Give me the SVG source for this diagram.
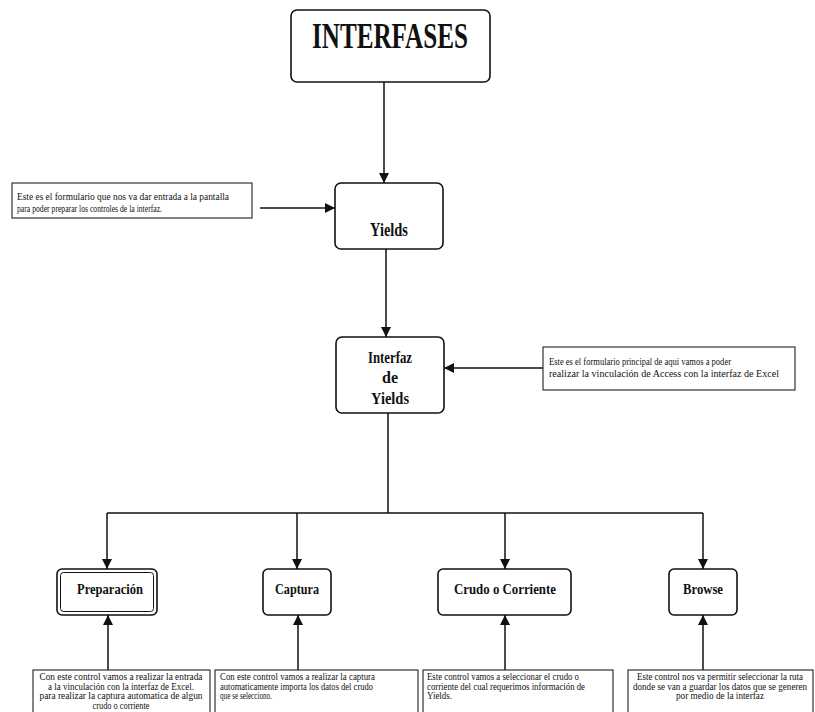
<svg xmlns="http://www.w3.org/2000/svg" width="815" height="712" viewBox="0 0 815 712">
<style>
.box{fill:#fff;stroke:#111;stroke-width:1.6}
.note{fill:#fff;stroke:#222;stroke-width:1.1}
.lbl{font-family:"Liberation Serif",serif;font-weight:bold;fill:#111;text-anchor:middle}
.txt{font-family:"Liberation Serif",serif;font-size:10.5px;fill:#111}
.sm{font-size:9.3px}
.c{text-anchor:middle}
.ln{fill:none;stroke:#111;stroke-width:1.5}
</style>
<defs>
<marker id="ah" viewBox="0 0 10 10" refX="10" refY="5" markerWidth="12" markerHeight="10" markerUnits="userSpaceOnUse" orient="auto">
<path d="M0,0 L10,5 L0,10 z" fill="#111"/>
</marker>
</defs>
<rect width="815" height="712" fill="#fff"/>
<g id="connectors">
<path class="ln" d="M384,82 V183" marker-end="url(#ah)"/>
<path class="ln" d="M260,208 H335" marker-end="url(#ah)"/>
<path class="ln" d="M386,249 V337" marker-end="url(#ah)"/>
<path class="ln" d="M543,368 H444" marker-end="url(#ah)"/>
<path class="ln" d="M388,413 V513 M107,513 H703"/>
<path class="ln" d="M107,513 V569" marker-end="url(#ah)"/>
<path class="ln" d="M297,513 V569" marker-end="url(#ah)"/>
<path class="ln" d="M505,513 V569" marker-end="url(#ah)"/>
<path class="ln" d="M703,513 V569" marker-end="url(#ah)"/>
<path class="ln" d="M108,670 V615" marker-end="url(#ah)"/>
<path class="ln" d="M298,670 V615" marker-end="url(#ah)"/>
<path class="ln" d="M505,670 V615" marker-end="url(#ah)"/>
<path class="ln" d="M703,670 V615" marker-end="url(#ah)"/>
</g>
<g id="interfases">
<rect class="box" x="291" y="10" width="199" height="72" rx="6"/>
<text class="lbl" x="390" y="48" font-size="36" textLength="156" lengthAdjust="spacingAndGlyphs">INTERFASES</text>
</g>
<g id="yields">
<rect class="box" x="335" y="183" width="108" height="66" rx="6"/>
<text class="lbl" x="389" y="236" font-size="18" textLength="38" lengthAdjust="spacingAndGlyphs">Yields</text>
</g>
<g id="note-yields">
<rect class="note" x="12" y="183" width="240" height="35"/>
<text class="txt" x="17" y="200" textLength="212" lengthAdjust="spacingAndGlyphs">Este es el formulario que nos va dar entrada a la pantalla</text>
<text class="txt" x="17" y="212" textLength="145" lengthAdjust="spacingAndGlyphs">para poder preparar los controles de la interfaz.</text>
</g>
<g id="interfaz">
<rect class="box" x="336" y="337" width="108" height="76" rx="6"/>
<text class="lbl" x="390" y="363" font-size="16" textLength="44" lengthAdjust="spacingAndGlyphs">Interfaz</text>
<text class="lbl" x="390" y="383" font-size="16">de</text>
<text class="lbl" x="390" y="404" font-size="16" textLength="38" lengthAdjust="spacingAndGlyphs">Yields</text>
</g>
<g id="note-interfaz">
<rect class="note" x="543" y="347" width="252" height="43"/>
<text class="txt" x="549" y="365" textLength="182" lengthAdjust="spacingAndGlyphs">Este es el formulario principal de aqui vamos a poder</text>
<text class="txt" x="549" y="377" textLength="230" lengthAdjust="spacingAndGlyphs">realizar la vinculación de Access con la interfaz de Excel</text>
</g>
<g id="preparacion">
<rect class="box" x="57" y="569" width="100" height="46" rx="5"/>
<rect x="60.5" y="572.5" width="93" height="39" rx="3" fill="none" stroke="#111" stroke-width="1"/>
<text class="lbl" x="110" y="594" font-size="15" textLength="66" lengthAdjust="spacingAndGlyphs">Preparación</text>
</g>
<g id="captura">
<rect class="box" x="263" y="569" width="68" height="46" rx="5"/>
<text class="lbl" x="297" y="594" font-size="15" textLength="44" lengthAdjust="spacingAndGlyphs">Captura</text>
</g>
<g id="crudo">
<rect class="box" x="438" y="569" width="133" height="46" rx="5"/>
<text class="lbl" x="505" y="594" font-size="15" textLength="102" lengthAdjust="spacingAndGlyphs">Crudo o Corriente</text>
</g>
<g id="browse">
<rect class="box" x="669" y="569" width="68" height="46" rx="5"/>
<text class="lbl" x="703" y="594" font-size="15" textLength="40" lengthAdjust="spacingAndGlyphs">Browse</text>
</g>
<g id="note-preparacion">
<rect class="note" x="33" y="670" width="177" height="46"/>
<text class="txt sm c" x="121" y="680" textLength="163" lengthAdjust="spacingAndGlyphs">Con este control vamos a realizar la entrada</text>
<text class="txt sm c" x="121" y="689.5" textLength="146" lengthAdjust="spacingAndGlyphs">a la vinculación con la interfaz de Excel.</text>
<text class="txt sm c" x="121" y="699" textLength="163" lengthAdjust="spacingAndGlyphs">para realizar la captura automatica de algun</text>
<text class="txt sm c" x="121" y="708.5" textLength="57" lengthAdjust="spacingAndGlyphs">crudo o corriente</text>
</g>
<g id="note-captura">
<rect class="note" x="215" y="670" width="203" height="46"/>
<text class="txt sm" x="220" y="680" textLength="155" lengthAdjust="spacingAndGlyphs">Con este control vamos a realizar la captura</text>
<text class="txt sm" x="220" y="689.5" textLength="153" lengthAdjust="spacingAndGlyphs">automaticamente importa los datos del crudo</text>
<text class="txt sm" x="220" y="699" textLength="52" lengthAdjust="spacingAndGlyphs">que se selecciono.</text>
</g>
<g id="note-crudo">
<rect class="note" x="423" y="670" width="190" height="46"/>
<text class="txt sm" x="427" y="680" textLength="152" lengthAdjust="spacingAndGlyphs">Este control vamos a seleccionar el crudo o</text>
<text class="txt sm" x="427" y="689.5" textLength="158" lengthAdjust="spacingAndGlyphs">corriente del cual requerimos información de</text>
<text class="txt sm" x="427" y="699" textLength="25" lengthAdjust="spacingAndGlyphs">Yields.</text>
</g>
<g id="note-browse">
<rect class="note" x="628" y="670" width="185" height="46"/>
<text class="txt sm c" x="720" y="680" textLength="166" lengthAdjust="spacingAndGlyphs">Este control nos va permitir seleccionar la ruta</text>
<text class="txt sm c" x="720" y="689.5" textLength="174" lengthAdjust="spacingAndGlyphs">donde se van a guardar los datos que se generen</text>
<text class="txt sm c" x="720" y="699" textLength="88" lengthAdjust="spacingAndGlyphs">por medio de la interfaz</text>
</g>
</svg>
